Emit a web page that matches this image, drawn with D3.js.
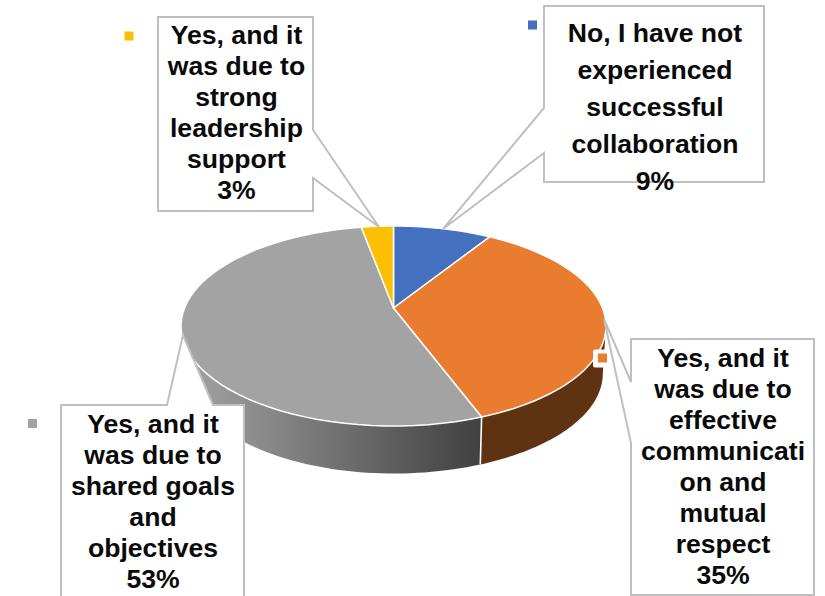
<!DOCTYPE html>
<html><head><meta charset="utf-8">
<script src="https://cdn.jsdelivr.net/npm/d3@7"></script>
<style>html,body{margin:0;background:#fff}svg{display:block}text{font-family:"Liberation Sans",Arial,sans-serif;font-weight:700;fill:#0a0a0a}</style>
</head><body><svg id="c" width="825" height="596"></svg>
<script>
const categories=["No, I have not experienced successful collaboration","Yes, and it was due to effective communication and mutual respect","Yes, and it was due to shared goals and objectives","Yes, and it was due to strong leadership support"];
const values=[8.9,35.4,52.8,2.9];
const percentLabels=["9%","35%","53%","3%"];
const labelLines=[["No, I have not","experienced","successful","collaboration"],["Yes, and it","was due to","effective","communicati","on and","mutual","respect"],["Yes, and it","was due to","shared goals","and","objectives"],["Yes, and it","was due to","strong","leadership","support"]];
const colors=["#4371c0","#ea7c30","#a3a3a3","#fcbf03"];
const sideColors=["#2a4578","#5f3312","url(#gs)","#997400"];
const svg=d3.select("#c");
const pie=d3.pie().sort(null).value(d=>d)(values);
const cx=393.5,cy=308,A=96.76,B=209,K=0.18,depth=47.5;
const rimTop=t=>{const u=Math.sin(t),v=Math.cos(t),d=1+K*v;return [cx+B*u/d,cy-A*v/d]};
const rimBot=t=>{const p=rimTop(t),s=p[0]>cx?0.985:0.965;return [cx+(p[0]-cx)*s,p[1]+depth]};
const arcPts=(a,b,f)=>d3.range(0,61).map(i=>f(a+(b-a)*i/60));
const line=d3.line();
const defs=svg.append("defs");
const g=defs.append("linearGradient").attr("id","gs").attr("gradientUnits","userSpaceOnUse").attr("x1",190).attr("x2",481).attr("y1",0).attr("y2",0);
[[0,"#a2a2a2"],[0.3,"#858585"],[1,"#404040"]].forEach(s=>g.append("stop").attr("offset",s[0]).attr("stop-color",s[1]));
const frontA=Math.PI*0.5+0.18,frontB=Math.PI*1.5-0.18;
pie.forEach((d,i)=>{
  const a=Math.max(d.startAngle,frontA),b=Math.min(d.endAngle,frontB);
  if(a>=b)return;
  const pts=arcPts(a,b,rimTop).concat(arcPts(b,a,rimBot));
  svg.append("path").attr("d",line(pts)+"Z").attr("fill",sideColors[i]);
});
const bd=pie[1].endAngle;
svg.append("path").attr("d",line([rimTop(bd),rimBot(bd)])).attr("stroke","#fff").attr("stroke-width",1.6).attr("fill","none");
pie.forEach((d,i)=>{
  const pts=[[cx,cy]].concat(arcPts(d.startAngle,d.endAngle,rimTop));
  svg.append("path").attr("d",line(pts)+"Z").attr("fill",colors[i]).attr("stroke","#fff").attr("stroke-width",1.5).attr("stroke-linejoin","round");
});
const boxes=[
 {x0:544,x1:766,p:"M544,6H764V182H544V153L443,229L544,108Z",ty:33,dy:37,key:[532.5,25]},
 {x0:631,x1:815,p:"M631,339H814V595H631V443L604,319L631,382Z",ty:358,dy:31,key:[602.5,358]},
 {x0:61,x1:245,p:"M61,405H167L183,335L213,405H244V640H61Z",ty:423.5,dy:31,key:[32.5,423.5]},
 {x0:158,x1:315,p:"M158,17H313V130L379,227L313,178V211H158Z",ty:35,dy:31,key:[129,36]}
];
boxes.forEach((b,i)=>{
  svg.append("path").attr("d",b.p).attr("fill","#fff").attr("stroke","#bfbfbf").attr("stroke-width",2);
  const tx=(b.x0+b.x1)/2;
  const t=svg.append("text").attr("text-anchor","middle").attr("font-size",26.6);
  labelLines[i].concat([percentLabels[i]]).forEach((l,j)=>t.append("tspan").attr("x",tx).attr("y",b.ty+j*b.dy+9).text(l));
});
boxes.forEach((b,i)=>{
  if(i==1)svg.append("rect").attr("x",593).attr("y",349.5).attr("width",14).attr("height",18).attr("rx",2).attr("fill","#fff");
  svg.append("rect").attr("x",b.key[0]-4.5).attr("y",b.key[1]-4.5).attr("width",9).attr("height",9).attr("fill",colors[i]);
});
</script></body></html>
